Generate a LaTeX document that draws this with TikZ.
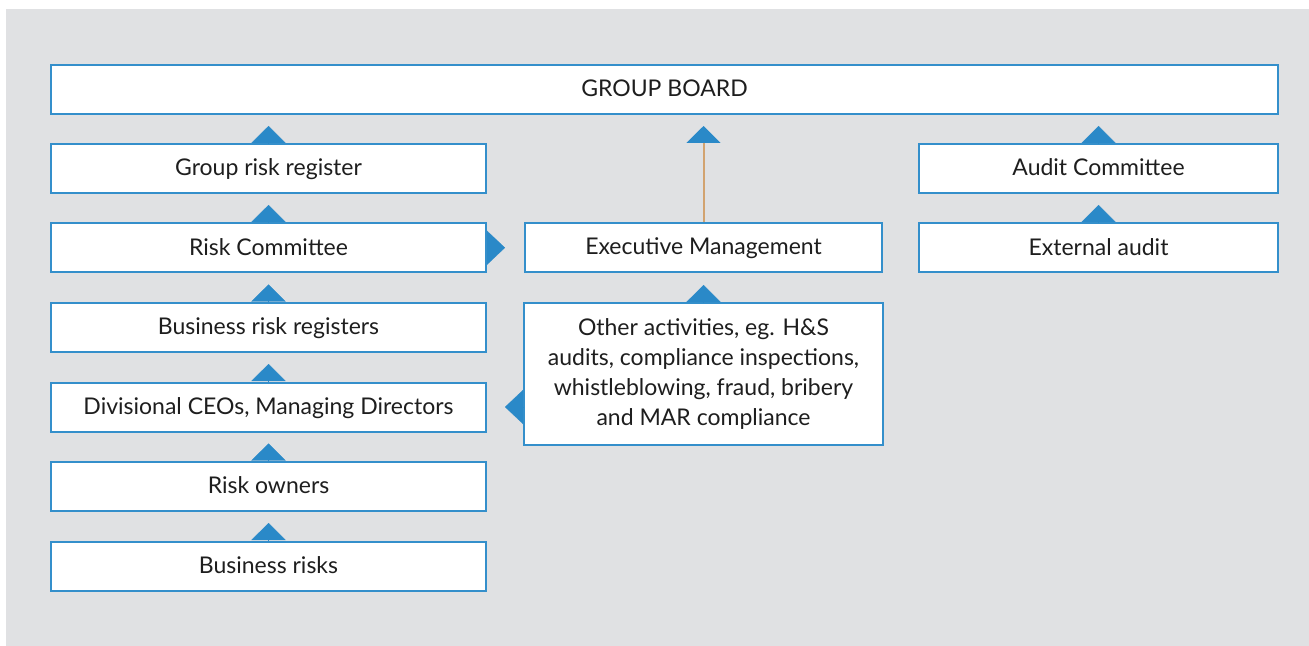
\documentclass[tikz,border=0pt]{standalone}
\usepackage{fontspec}
\setmainfont{Lato}
\usetikzlibrary{positioning,arrows.meta}
\definecolor{panel}{RGB}{224,225,227}
\definecolor{frame}{RGB}{52,143,203}
\definecolor{marker}{RGB}{42,137,200}
\definecolor{tanline}{RGB}{210,163,112}
\definecolor{txt}{RGB}{30,30,30}

\begin{document}
\begin{tikzpicture}[
    x=0.5pt, y=-0.5pt,
    box/.style={draw=frame, line width=1pt, fill=white, minimum height=24.5pt, inner sep=0pt, align=center, font=\fontsize{11.5}{15}\selectfont, text=txt},
    onerow/.style={box, text height=0.72em, text depth=0em},
    leftbox/.style={onerow, minimum width=217.5pt},
    midbox/.style={onerow, minimum width=178.5pt},
    rightbox/.style={onerow, minimum width=179.5pt},
    up/.style={-{Triangle[length=8.5pt, width=17pt, color=marker]}, line width=0.1pt, marker, shorten >=5.5pt},
    side/.style={-{Triangle[length=9pt, width=17pt, color=marker]}, line width=0.1pt, marker}
]

% Panel and canvas
\useasboundingbox (0,0) rectangle (1309,646);
\fill[panel] (6,9) rectangle (1309,646);

% Board across the top
\node[onerow, minimum width=613.5pt, anchor=north west] (board) at (50,64) {GROUP BOARD};

% Left column - risk chain
\node[leftbox, anchor=north west] (grr) at (50,143) {Group risk register};
\node[leftbox, below=14.25pt of grr] (rc) {Risk Committee};
\node[leftbox, below=14.25pt of rc] (brr) {Business risk registers};
\node[leftbox, below=14.25pt of brr] (div) {Divisional CEOs, Managing Directors};
\node[leftbox, below=14.25pt of div] (own) {Risk owners};
\node[leftbox, below=14.25pt of own] (brisk) {Business risks};

% Middle column
\node[midbox, anchor=north west] (exec) at (524,222) {Executive Management};
\node[box, minimum width=179.5pt, minimum height=71pt, below=14.5pt of exec] (oth) {Other activities, eg. H\&S\\audits, compliance inspections,\\whistleblowing, fraud, bribery\\and MAR compliance};

% Right column
\node[rightbox, anchor=north west] (audit) at (918,143) {Audit Committee};
\node[rightbox, below=14.25pt of audit] (ext) {External audit};

% Upward markers - left column
\draw[up] (grr) -- (grr |- board.south);
\draw[up] (rc) -- (grr);
\draw[up] (brr) -- (rc);
\draw[up] (div) -- (brr);
\draw[up] (own) -- (div);
\draw[up] (brisk) -- (own);

% Middle column links
\draw[draw=tanline, line width=1pt, -{Triangle[length=8.5pt, width=17pt, color=marker]}, shorten >=5.5pt] (exec) -- (exec |- board.south);
\draw[up, shorten >=6pt] (oth) -- (exec);

% Side markers
\draw[side, shorten >=9.5pt] (rc) -- (exec);
\draw[side, shorten >=9pt] (oth.west |- div) -- (div);

% Right column
\draw[up] (audit) -- (audit |- board.south);
\draw[up] (ext) -- (audit);

\end{tikzpicture}
\end{document}
